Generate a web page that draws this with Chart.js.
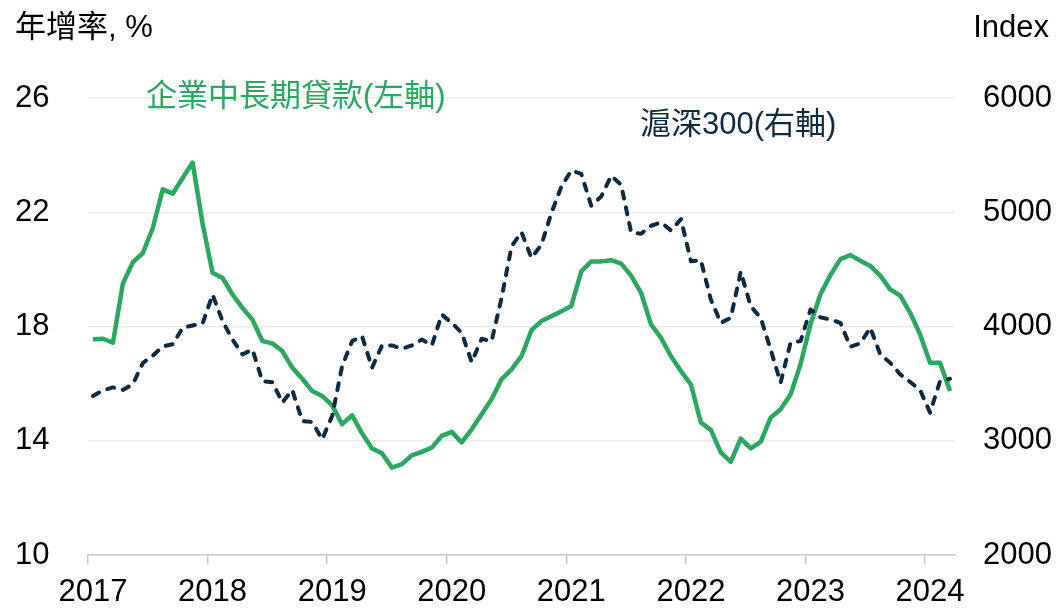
<!DOCTYPE html>
<html>
<head>
<meta charset="utf-8">
<script src="https://cdn.jsdelivr.net/npm/chart.js@4.4.1/dist/chart.umd.min.js"></script>
<style>
  html, body { margin: 0; padding: 0; background: #fff; }
  #wrap { position: relative; width: 1058px; height: 608px; }
</style>
</head>
<body>
<div id="wrap"><canvas id="chart"></canvas></div>
<script>
// year labels shown on the x axis (one tick per January)
const years = ['2017', '2018', '2019', '2020', '2021', '2022', '2023', '2024'];
const lastYearMonths = 3; // data runs to Mar 2024

// 企業中長期貸款 年增率 (%), monthly
const loans = [
  17.55, 17.57, 17.43, 19.5, 20.25, 20.57, 21.45, 22.8, 22.65, 23.2, 23.74, 21.6,
  19.88, 19.7, 19.12, 18.65, 18.24, 17.49, 17.41, 17.14, 16.56, 16.17, 15.74, 15.57,
  15.24, 14.58, 14.89, 14.26, 13.73, 13.56, 13.06, 13.18, 13.49, 13.61, 13.76, 14.17,
  14.31, 13.94, 14.4, 14.93, 15.45, 16.15, 16.5, 16.96, 17.87, 18.19, 18.36, 18.53,
  18.72, 19.93, 20.28, 20.28, 20.32, 20.2, 19.78, 19.18, 18.07, 17.6, 16.96, 16.44,
  15.97, 14.64, 14.38, 13.59, 13.26, 14.08, 13.73, 13.96, 14.81, 15.1, 15.62, 16.68,
  18.08, 19.13, 19.8, 20.36, 20.5, 20.3, 20.12, 19.78, 19.3, 19.08, 18.48, 17.72,
  16.73, 16.73, 15.74
];

// 滬深300 index, month end
const csi300 = [
  3391, 3441, 3467, 3445, 3495, 3680, 3745, 3825, 3845, 3990, 4009, 4026,
  4279, 4047, 3886, 3755, 3799, 3522, 3513, 3334, 3444, 3173, 3164, 3013,
  3217, 3653, 3872, 3915, 3639, 3834, 3834, 3805, 3834, 3886, 3834, 4105,
  4032, 3945, 3688, 3893, 3872, 4250, 4701, 4825, 4600, 4716, 4993, 5225,
  5365, 5336, 5057, 5138, 5319, 5240, 4825, 4812, 4882, 4911, 4841, 4940,
  4571, 4580, 4236, 4032, 4076, 4480, 4177, 4076, 3799, 3508, 3858, 3872,
  4148, 4080, 4061, 4032, 3823, 3852, 3989, 3755, 3683, 3581, 3514, 3444,
  3246, 3522, 3543
];

const leftTicks = [10, 14, 18, 22, 26];
const rightTicks = [2000, 3000, 4000, 5000, 6000];

const GREEN = '#29A85F';
const NAVY = '#0C2A42';
const FONT = "'Liberation Sans', Arial, 'Noto Sans CJK TC', sans-serif";

// monthly categories
const months = [];
years.forEach((y, i) => {
  const n = i === years.length - 1 ? lastYearMonths : 12;
  for (let m = 1; m <= n; m++) months.push(y + '-' + String(m).padStart(2, '0'));
});

const textPlugin = {
  id: 'texts',
  afterDraw(chart) {
    const ctx = chart.ctx;
    ctx.save();
    ctx.font = '31px ' + FONT;
    ctx.textBaseline = 'middle';
    ctx.fillStyle = '#000';
    ctx.textAlign = 'left';
    ctx.fillText('年增率, %', 15, 28);
    ctx.textAlign = 'right';
    ctx.fillText('Index', 1049, 28);
    ctx.textAlign = 'left';
    ctx.fillStyle = GREEN;
    ctx.fillText('企業中長期貸款(左軸)', 146, 97);
    ctx.fillStyle = NAVY;
    ctx.fillText('滬深300(右軸)', 640, 125);
    ctx.restore();
  }
};

new Chart(document.getElementById('chart'), {
  type: 'line',
  data: {
    labels: months,
    datasets: [
      {
        label: '滬深300(右軸)',
        data: csi300,
        yAxisID: 'y1',
        borderColor: NAVY,
        borderWidth: 4,
        borderDash: [7, 9],
        borderCapStyle: 'round',
        borderJoinStyle: 'round',
        pointRadius: 0,
        tension: 0,
        order: 0
      },
      {
        label: '企業中長期貸款(左軸)',
        data: loans,
        yAxisID: 'y',
        borderColor: GREEN,
        borderWidth: 4.5,
        borderJoinStyle: 'round',
        pointRadius: 0,
        tension: 0,
        order: 1
      }
    ]
  },
  options: {
    responsive: true,
    maintainAspectRatio: false,
    animation: false,
    layout: { padding: { top: 98, left: 15, right: 0, bottom: 0 } },
    plugins: { legend: { display: false }, tooltip: { enabled: false } },
    scales: {
      x: {
        type: 'category',
        offset: true,
        grid: {
          offset: true,
          drawOnChartArea: false,
          drawTicks: true,
          tickLength: 9,
          lineWidth: 1.5,
          tickColor: (c) => (c.index % 12 === 0 ? '#c8c8c8' : 'rgba(0,0,0,0)')
        },
        border: { color: '#c8c8c8', width: 1.5 },
        ticks: {
          autoSkip: false,
          maxRotation: 0,
          padding: 10,
          color: '#000',
          font: { family: FONT, size: 31 },
          callback: (v, i) => (i % 12 === 0 ? years[i / 12] : '')
        },
        afterFit: (s) => { s.height = 53; }
      },
      y: {
        position: 'left',
        min: 10,
        max: 26,
        afterBuildTicks: (s) => { s.ticks = leftTicks.map(v => ({ value: v })); },
        grid: {
          drawTicks: false,
          lineWidth: 1.5,
          color: (c) => (c.tick && c.tick.value === 10 ? 'rgba(0,0,0,0)' : '#ececec')
        },
        border: { display: false },
        ticks: {
          crossAlign: 'far',
          color: '#000',
          font: { family: FONT, size: 31 }
        },
        afterFit: (s) => { s.width = 73; }
      },
      y1: {
        position: 'right',
        min: 2000,
        max: 6000,
        afterBuildTicks: (s) => { s.ticks = rightTicks.map(v => ({ value: v })); },
        grid: { drawOnChartArea: false, drawTicks: false },
        border: { display: false },
        ticks: {
          padding: 28,
          crossAlign: 'near',
          color: '#000',
          font: { family: FONT, size: 31 },
          callback: (v) => String(v)
        },
        afterFit: (s) => { s.width = 103; }
      }
    }
  },
  plugins: [textPlugin]
});
</script>
</body>
</html>
